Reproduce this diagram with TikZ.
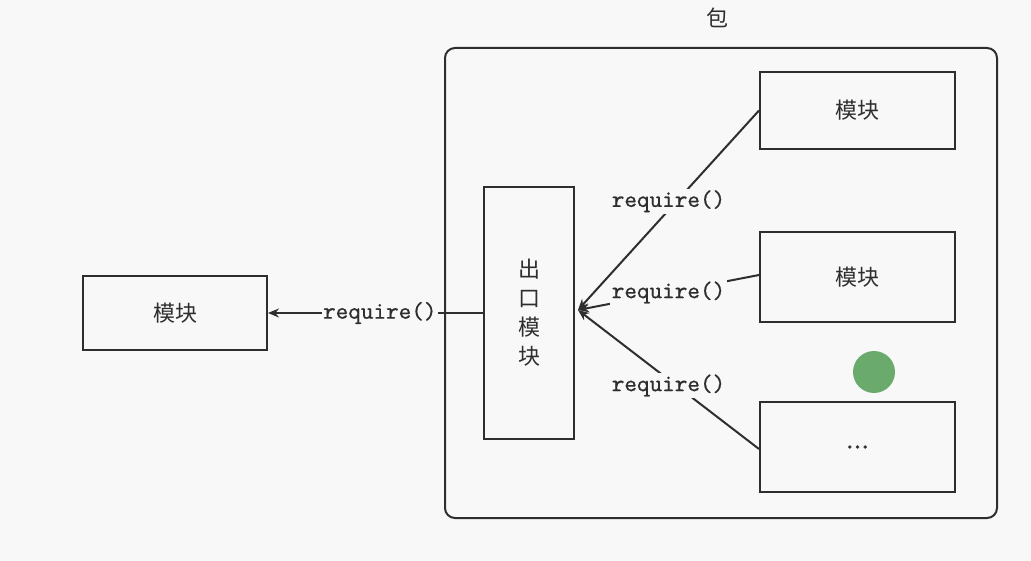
\documentclass[tikz,border=0pt]{standalone}
\usepackage{fontspec}
\newfontfamily\cjk{Noto Sans CJK SC}
\newfontfamily\lblfont{lmmono10-regular.otf}[FakeBold=0.6]
\usetikzlibrary{arrows.meta}
\definecolor{bgc}{HTML}{F8F8F8}
\definecolor{linec}{HTML}{2E2E2E}
\definecolor{dotc}{HTML}{6AAA6C}
\begin{document}
\begin{tikzpicture}[x=1pt,y=-1pt,
  box/.style={draw=linec, line width=2pt, inner sep=0pt, fill=bgc,
    font=\cjk\fontsize{22}{22}\selectfont, text=linec},
  lbl/.style={font=\lblfont\fontsize{24}{24}\selectfont, fill=bgc, inner sep=1.5pt, text=linec},
  conn/.style={draw=linec, line width=2pt},
  arr/.style={conn, -{Stealth[length=11pt,width=9pt]}}]
\fill[bgc] (0,0) rectangle (1031,561);
\useasboundingbox (0,0) rectangle (1031,561);
% package frame
\node[draw=linec, line width=2pt, rounded corners=10pt, minimum width=552pt, minimum height=470pt] (pkg) at (721,283) {};
\node[font=\cjk\fontsize{22}{22}\selectfont, text=linec] (pkglbl) at (717,18) {包};
% boxes
\node[box, minimum width=184pt, minimum height=74pt] (m0) at (175,313) {模块};
\node[box, minimum width=90pt, minimum height=252pt, align=center,
  font=\cjk\fontsize{22}{29}\selectfont] (exp) at (529,313) {出\\口\\模\\块};
\node[box, minimum width=195pt, minimum height=77pt] (b1) at (857.5,110.5) {模块};
\node[box, minimum width=195pt, minimum height=90pt] (b2) at (857.5,277) {模块};
\node[box, minimum width=195pt, minimum height=90pt, font=\lblfont\fontsize{26}{26}\selectfont, text=linec] (b3) at (857.5,447) {.\hspace{-6pt}.\hspace{-6pt}.};
% connectors
\coordinate (conv) at ([xshift=3pt,yshift=3pt]exp.east);
\draw[arr] (b1.west) -- node[lbl, pos=0.5, yshift=9pt] {require()} (conv);
\draw[arr] ([yshift=2pt]b2.west) -- node[lbl, pos=0.5] {require()} (conv);
\draw[arr] ([yshift=-2pt]b3.west) -- node[lbl, pos=0.5, yshift=-6pt] {require()} (conv);
\draw[arr] (exp.west) -- node[lbl, pos=0.48] {require()} (m0.east);
% screen artifact
\fill[dotc] (874,372) circle (21pt);
\end{tikzpicture}
\end{document}
